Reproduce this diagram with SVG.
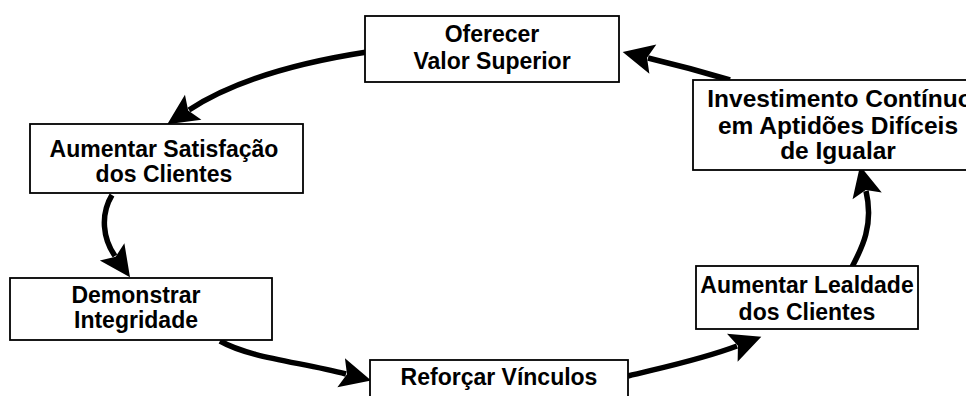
<svg xmlns="http://www.w3.org/2000/svg" width="966" height="396" viewBox="0 0 966 396">
<style>
.box{fill:#fff;stroke:#000;stroke-width:1.8}
.t{font-family:"Liberation Sans",Arial,Helvetica,sans-serif;font-weight:bold;font-size:23px;fill:#000;text-anchor:middle}
.big{font-size:24.5px}
.arr{fill:none;stroke:#000;stroke-width:5.5;marker-end:url(#ah)}
</style>
<defs>
<marker id="ah" markerUnits="userSpaceOnUse" viewBox="-2 -18 36 36" refX="5" refY="0" markerWidth="36" markerHeight="36" orient="auto">
<polygon points="0,-15 31,0 0,15 6,0" fill="#000"/>
</marker>
</defs>
<rect width="966" height="396" fill="#fff"/>
<g id="connectors">
<path class="arr" d="M367,52 Q250,70 189,110"/>
<path class="arr" d="M112,195 C100,215 103,239 115,256"/>
<path class="arr" d="M220,341 C250,358 300,362 346,374"/>
<path class="arr" d="M628,376 C660,368 700,360 737,346"/>
<path class="arr" d="M852,267 C862,248 874,225 866,191"/>
<path class="arr" d="M730,80 Q690,68 648,58"/>
</g>
<g id="oferecer">
<rect class="box" x="365" y="16" width="254" height="66"/>
<text class="t" x="492" y="42">Oferecer</text>
<text class="t" x="492" y="69">Valor Superior</text>
</g>
<g id="investimento">
<rect class="box" x="693" y="80" width="292" height="90"/>
<text class="t big" x="840" y="107">Investimento Contínuo</text>
<text class="t big" x="838" y="134">em Aptidões Difíceis</text>
<text class="t big" x="838" y="159">de Igualar</text>
</g>
<g id="satisfacao">
<rect class="box" x="30" y="124" width="273" height="69"/>
<text class="t" x="164" y="157">Aumentar Satisfação</text>
<text class="t" x="164" y="182">dos Clientes</text>
</g>
<g id="integridade">
<rect class="box" x="10" y="278" width="262" height="62"/>
<text class="t" x="136" y="303">Demonstrar</text>
<text class="t" x="136" y="328">Integridade</text>
</g>
<g id="vinculos">
<rect class="box" x="370" y="360" width="258" height="50"/>
<text class="t" x="499" y="385">Reforçar Vínculos</text>
</g>
<g id="lealdade">
<rect class="box" x="696" y="266" width="222" height="63"/>
<text class="t" x="807" y="293">Aumentar Lealdade</text>
<text class="t" x="807" y="320">dos Clientes</text>
</g>
</svg>
